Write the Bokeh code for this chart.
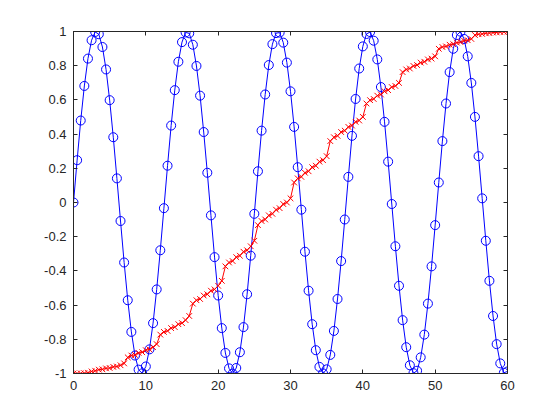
from bokeh.plotting import figure
from bokeh.models import Range1d, FixedTicker, LinearAxis
from bokeh.embed import file_html
from bokeh.resources import INLINE

x_vals = [0.0, 0.5, 1.0, 1.5, 2.0, 2.5, 3.0, 3.5, 4.0, 4.5, 5.0, 5.5, 6.0, 6.5, 7.0, 7.5,
          8.0, 8.5, 9.0, 9.5, 10.0, 10.5, 11.0, 11.5, 12.0, 12.5, 13.0, 13.5, 14.0, 14.5,
          15.0, 15.5, 16.0, 16.5, 17.0, 17.5, 18.0, 18.5, 19.0, 19.5, 20.0, 20.5, 21.0,
          21.5, 22.0, 22.5, 23.0, 23.5, 24.0, 24.5, 25.0, 25.5, 26.0, 26.5, 27.0, 27.5,
          28.0, 28.5, 29.0, 29.5, 30.0, 30.5, 31.0, 31.5, 32.0, 32.5, 33.0, 33.5, 34.0,
          34.5, 35.0, 35.5, 36.0, 36.5, 37.0, 37.5, 38.0, 38.5, 39.0, 39.5, 40.0, 40.5,
          41.0, 41.5, 42.0, 42.5, 43.0, 43.5, 44.0, 44.5, 45.0, 45.5, 46.0, 46.5, 47.0,
          47.5, 48.0, 48.5, 49.0, 49.5, 50.0, 50.5, 51.0, 51.5, 52.0, 52.5, 53.0, 53.5,
          54.0, 54.5, 55.0, 55.5, 56.0, 56.5, 57.0, 57.5, 58.0, 58.5, 59.0, 59.5, 60.0]

wave_vals = [0.0000, 0.2474, 0.4794, 0.6816, 0.8415, 0.9490, 0.9975, 0.9840, 0.9093, 0.7781,
             0.5985, 0.3817, 0.1411, -0.1082, -0.3508, -0.5716, -0.7568, -0.8950, -0.9775,
             -0.9993, -0.9589, -0.8589, -0.7055, -0.5083, -0.2794, -0.0332, 0.2151, 0.4500,
             0.6570, 0.8231, 0.9380, 0.9946, 0.9894, 0.9226, 0.7985, 0.6248, 0.4121, 0.1739,
             -0.0752, -0.3195, -0.5440, -0.7346, -0.8797, -0.9700, -1.0000, -0.9678, -0.8756,
             -0.7287, -0.5366, -0.3111, -0.0663, 0.1826, 0.4202, 0.6317, 0.8038, 0.9260,
             0.9906, 0.9936, 0.9349, 0.8181, 0.6503, 0.4421, 0.2065, -0.0420, -0.2879,
             -0.5158, -0.7117, -0.8637, -0.9614, -0.9996, -0.9756, -0.8912, -0.7510, -0.5643,
             -0.3425, -0.0994, 0.1499, 0.3898, 0.6055, 0.7836, 0.9129, 0.9855, 0.9968, 0.9462,
             0.8367, 0.6751, 0.4717, 0.2389, -0.0089, -0.2559, -0.4871, -0.6880, -0.8462,
             -0.9518, -0.9981, -0.9839, -0.9056, -0.7726, -0.5913, -0.3735, -0.1324, 0.1170,
             0.3591, 0.5789, 0.7626, 0.8989, 0.9793, 0.9989, 0.9564, 0.8547, 0.6993, 0.5006,
             0.2709, 0.0243, -0.2238, -0.4580, -0.6636, -0.8283, -0.9409, -0.9955, -0.9880]

sorted_vals = [-1.0000, -0.9996, -0.9993, -0.9981, -0.9955, -0.9880, -0.9839, -0.9775, -0.9756,
               -0.9700, -0.9678, -0.9614, -0.9589, -0.9518, -0.9409, -0.9056, -0.8950, -0.8912,
               -0.8797, -0.8756, -0.8637, -0.8589, -0.8462, -0.8283, -0.7726, -0.7568, -0.7510,
               -0.7346, -0.7287, -0.7117, -0.7055, -0.6880, -0.6636, -0.5913, -0.5716, -0.5643,
               -0.5440, -0.5366, -0.5158, -0.5083, -0.4871, -0.4580, -0.3735, -0.3508, -0.3425,
               -0.3195, -0.3111, -0.2879, -0.2794, -0.2559, -0.2238, -0.1324, -0.1082, -0.0994,
               -0.0752, -0.0663, -0.0420, -0.0332, -0.0089,
               0.0000, 0.0243, 0.1170, 0.1411, 0.1499, 0.1739, 0.1826, 0.2065, 0.2151, 0.2389,
               0.2474, 0.2709, 0.3591, 0.3817, 0.3898, 0.4121, 0.4202, 0.4421, 0.4500, 0.4717,
               0.4794, 0.5006, 0.5789, 0.5985, 0.6055, 0.6248, 0.6317, 0.6503, 0.6570, 0.6751,
               0.6816, 0.6993, 0.7626, 0.7781, 0.7836, 0.7985, 0.8038, 0.8181, 0.8231, 0.8367,
               0.8415, 0.8547, 0.8989, 0.9093, 0.9129, 0.9226, 0.9260, 0.9349, 0.9380, 0.9462,
               0.9490, 0.9564, 0.9793, 0.9840, 0.9855, 0.9894, 0.9906, 0.9936, 0.9946, 0.9968,
               0.9975, 0.9989]

x_ticks = [0, 10, 20, 30, 40, 50, 60]
x_tick_labels = ["0", "10", "20", "30", "40", "50", "60"]
y_ticks = [-1, -0.8, -0.6, -0.4, -0.2, 0, 0.2, 0.4, 0.6, 0.8, 1]
y_tick_labels = ["-1", "-0.8", "-0.6", "-0.4", "-0.2", "0", "0.2", "0.4", "0.6", "0.8", "1"]

AX = "#262626"
FONT = "Liberation Sans"

p = figure(frame_width=434, frame_height=342, output_backend="svg", toolbar_location=None,
           x_range=Range1d(0, 60), y_range=Range1d(-1, 1),
           min_border_left=73, min_border_top=31, min_border_right=40, min_border_bottom=35)
p.background_fill_color = "white"
p.border_fill_color = "white"
p.grid.visible = False
p.outline_line_color = AX
p.outline_line_width = 1

def style(ax, ticks, labels, show_labels, standoff):
    ax.ticker = FixedTicker(ticks=ticks)
    ax.major_label_overrides = {t: l for t, l in zip(ticks, labels)}
    ax.axis_line_color = AX
    ax.major_tick_line_color = AX
    ax.major_tick_in = 4
    ax.major_tick_out = 0
    ax.minor_tick_line_color = None
    ax.major_label_text_font = FONT
    ax.major_label_text_font_size = "13px"
    ax.major_label_text_color = AX
    ax.major_label_standoff = standoff
    if not show_labels:
        ax.major_label_text_alpha = 0
        ax.major_label_text_font_size = "1px"

style(p.xaxis[0], x_ticks, x_tick_labels, True, 7)
style(p.yaxis[0], y_ticks, y_tick_labels, True, 7)

top_ax = LinearAxis()
style(top_ax, x_ticks, x_tick_labels, False, 0)
p.add_layout(top_ax, "above")
right_ax = LinearAxis()
style(right_ax, y_ticks, y_tick_labels, False, 0)
p.add_layout(right_ax, "right")

blue = "#0000FF"
red = "#FF0000"
p.line(x_vals, wave_vals, line_color=blue, line_width=1)
p.scatter(x_vals, wave_vals, marker="circle", size=9, fill_color=None, line_color=blue, line_width=1)
p.line(x_vals, sorted_vals, line_color=red, line_width=1)
p.scatter(x_vals, sorted_vals, marker="x", size=8, line_color=red, line_width=1)

open("out.html", "w").write(file_html(p, INLINE))
